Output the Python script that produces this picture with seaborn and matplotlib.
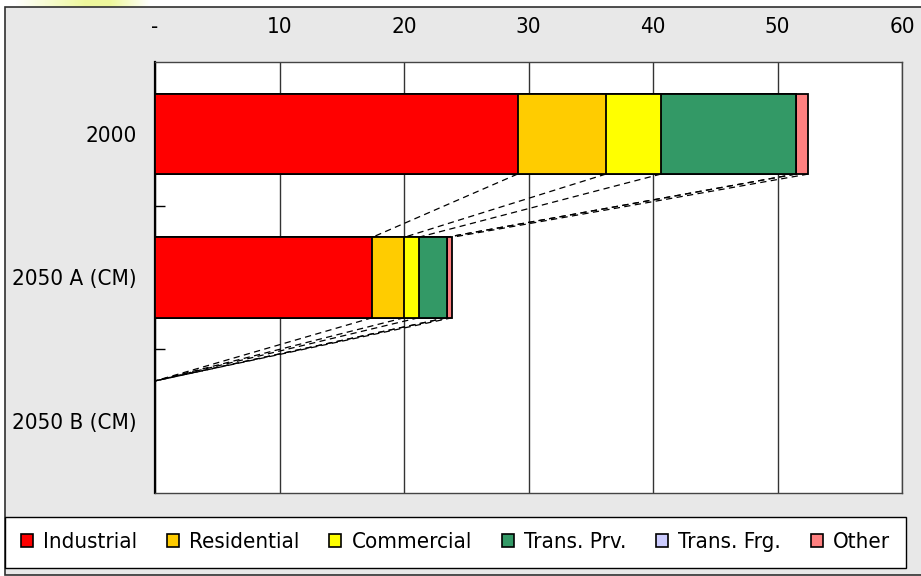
import numpy as np
import pandas as pd
import matplotlib
matplotlib.use("Agg")
import matplotlib.pyplot as plt
from matplotlib.patches import Patch, Rectangle
import seaborn as sns

# Final energy demand by sector
categories = ["2000", "2050 A (CM)", "2050 B (CM)"]
series_names = ["Industrial", "Residential", "Commercial", "Trans. Prv.", "Trans. Frg.", "Other"]
industrial = [29.12, 17.45, 0.0]
residential = [7.10, 2.57, 0.0]
commercial = [4.42, 1.15, 0.0]
trans_prv = [10.82, 2.25, 0.0]
trans_frg = [0.0, 0.0, 0.0]
other = [1.01, 0.45, 0.0]
x_ticks = [0, 10, 20, 30, 40, 50, 60]
x_tick_labels = ["-", "10", "20", "30", "40", "50", "60"]

colors = ["#FF0000", "#FFCC00", "#FFFF00", "#339966", "#CCCCFF", "#FF8080"]

sns.set_style("white")
plt.rcParams["font.family"] = ["DejaVu Sans"]
plt.rcParams["font.stretch"] = "condensed"
plt.rcParams["text.color"] = "black"
plt.rcParams["xtick.color"] = "black"
plt.rcParams["ytick.color"] = "black"
FS = 16

values = np.array([industrial, residential, commercial, trans_prv, trans_frg, other])
cumulative = np.cumsum(values, axis=0)

df = pd.DataFrame({"category": categories})
for name, cum in zip(series_names, cumulative):
    df[name] = cum

W, H = 921, 576
fig = plt.figure(figsize=(W / 100, H / 100), dpi=100, facecolor="white")

# grey chart area with a dark frame
fig.patches.append(Rectangle((5 / W, 1 / H), 925 / W, 568 / H,
                             transform=fig.transFigure, facecolor="#E8E8E8",
                             edgecolor="#303030", lw=1.2, zorder=-5))

# soft yellow highlight along the top edge
glow_ax = fig.add_axes([0, 1 - 7 / H, 170 / W, 7 / H], zorder=-6)
gx = np.linspace(0, 170, 170)
alpha = np.clip((gx - 15) / 70, 0, 1) * np.clip((150 - gx) / 40, 0, 1) * 0.65
rgba = np.zeros((1, gx.size, 4))
rgba[..., 0], rgba[..., 1], rgba[..., 2] = 0.90, 0.96, 0.40
rgba[..., 3] = alpha
glow_ax.imshow(rgba, aspect="auto", extent=(0, 170, 0, 1), interpolation="bilinear")
glow_ax.set_axis_off()

ax = fig.add_axes([155 / W, 1 - 493 / H, (902 - 155) / W, (493 - 62) / H])
ax.set_facecolor("white")

bar_h = 0.56
# stacked bars: draw running totals from the largest down
for name, col in reversed(list(zip(series_names, colors))):
    sns.barplot(data=df, x=name, y="category", order=categories, orient="h",
                color=col, saturation=1, width=bar_h, edgecolor="black",
                linewidth=1.3, errorbar=None, ax=ax, zorder=3)

# series lines joining segment ends between consecutive bars
for cum in cumulative:
    for j in range(len(categories) - 1):
        ax.plot([cum[j], cum[j + 1]], [j + bar_h / 2, j + 1 - bar_h / 2],
                color="black", lw=0.9, ls=(0, (5, 3.5)), zorder=2)

ax.set_xlim(0, 60)
ax.set_ylim(2.5, -0.5)
ax.set_xlabel("")
ax.set_ylabel("")

ax.xaxis.tick_top()
ax.set_xticks(x_ticks)
ax.set_xticklabels(x_tick_labels, fontsize=FS)
ax.tick_params(axis="x", length=0, pad=18, colors="black")
ax.xaxis.grid(True, color="#333333", lw=1.0)
ax.set_axisbelow(True)

ax.set_yticks(range(len(categories)))
ax.set_yticklabels(categories, fontsize=FS)
ax.set_yticks([0.5, 1.5], minor=True)
ax.tick_params(axis="y", which="major", length=0, pad=13, colors="black")
ax.tick_params(axis="y", which="minor", length=7, direction="in", width=1,
               color="black", left=True)

for side, sp in ax.spines.items():
    sp.set_visible(True)
    sp.set_color("#444444")
    sp.set_linewidth(1.0)
ax.spines["left"].set_color("black")
ax.spines["left"].set_linewidth(1.6)

handles = [Patch(facecolor=c, edgecolor="black", lw=1.2, label=n)
           for n, c in zip(series_names, colors)]
leg = fig.legend(handles=handles, loc="center", ncol=6, mode="expand",
                 bbox_to_anchor=(5 / W, 1 - 570 / H, 901 / W, 55 / H),
                 frameon=True, fancybox=False, edgecolor="black", fontsize=FS,
                 handlelength=0.55, handleheight=0.55, handletextpad=0.45,
                 borderpad=0.7, borderaxespad=0, framealpha=1)
leg.get_frame().set_linewidth(1.0)
leg.get_frame().set_facecolor("white")
for t in leg.get_texts():
    t.set_color("black")

fig.savefig("out.png", dpi=100, facecolor="white")
